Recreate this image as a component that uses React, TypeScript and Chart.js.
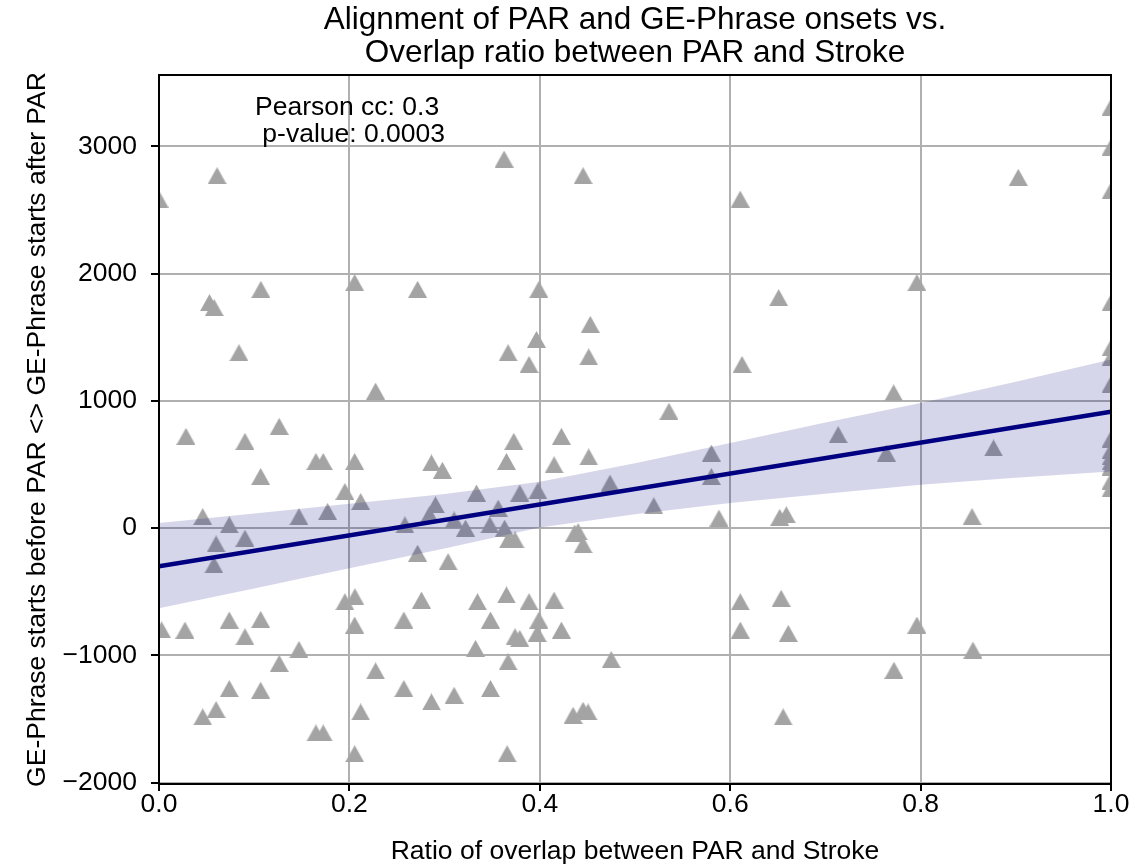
import React, { useEffect, useRef } from 'react';
import { Chart, registerables } from 'chart.js';

Chart.register(...registerables);

// ---- data ----
const overlapRatio = [
  0.0, 0.061, 0.053, 0.058, 0.107, 0.084, 0.2055, 0.2716, 0.2275, 0.3625,
  0.4455, 0.6105, 0.399, 0.6509, 0.453, 0.3965, 0.3667, 0.3887, 0.4514, 0.6124,
  0.5357, 1.0, 1.0, 1.0, 0.9026, 0.7961, 1.0, 0.7717, 1.0, 1.0,
  1.0, 1.0, 1.0, 1.0, 1.0, 1.0, 1.0, 1.0, 0.7134, 0.764,
  0.8766, 0.659, 0.652, 0.854, 0.6535, 0.661, 0.7961, 0.855, 0.772, 0.6556,
  0.3727, 0.4227, 0.365, 0.415, 0.4514, 0.5802, 0.5802, 0.3335, 0.379, 0.398,
  0.4738, 0.5197, 0.5882, 0.3563, 0.3475, 0.363, 0.367, 0.374, 0.4367, 0.4402,
  0.4455, 0.3345, 0.365, 0.3887, 0.415, 0.3482, 0.399, 0.3972, 0.374, 0.379,
  0.4227, 0.3325, 0.3667, 0.475, 0.6106, 0.6106, 0.3482, 0.435, 0.4455, 0.4507,
  0.3657, 0.0283, 0.0903, 0.1263, 0.1648, 0.1725, 0.2055, 0.1068, 0.2862, 0.2977,
  0.1953, 0.2118, 0.0459, 0.0738, 0.147, 0.1771, 0.06, 0.0903, 0.0577, 0.2904,
  0.284, 0.2583, 0.31, 0.322, 0.2716, 0.3037, 0.1953, 0.2058, 0.2055, 0.2757,
  0.2572, 0.0028, 0.0273, 0.0738, 0.1068, 0.0903, 0.147, 0.1263, 0.2275, 0.0738,
  0.1068, 0.2572, 0.2862, 0.31, 0.0459, 0.06, 0.2118, 0.1648, 0.1725, 0.2055,
];

const onsetOffset = [
  2585, 2769, 1772, 1732, 1876, 1378, 1929, 1876, 1076, 2900,
  2769, 2585, 1876, 1811, 1601, 1483, 1378, 1286, 1346, 1286,
  918, 3307, 2992, 2650, 2756, 1929, 1772, 1063, 1417, 1340,
  1130, 700, 610, 560, 520, 480, 370, 310, 735, 590,
  630, 105, 85, 91, -551, -827, -761, -958, -1116, -1483,
  682, 721, 524, 498, 559, 590, 406, 276, 276, 294,
  354, 176, 79, 157, 26, 0, -92, -92, -39, -27,
  -131, -578, -525, -578, -565, -722, -722, -827, -853, -866,
  -801, -945, -1050, -1032, -578, -801, -1260, -1470, -1431, -1444,
  -1772, 721, 682, 800, 524, 524, 524, 406, 512, 454,
  288, 209, 91, 26, 91, 131, -124, -79, -289, 183,
  105, 26, 65, 0, -197, -263, -578, -539, -761, -565,
  -722, -800, -801, -722, -717, -853, -953, -1063, -1121, -1260,
  -1273, -1260, -1365, -1313, -1483, -1425, -1444, -1609, -1609, -1772,
];

const fitX = [0, 1];
const fitY = [-300, 915];

const ciX = [0, 0.1, 0.2, 0.3, 0.4, 0.5, 0.6, 0.7, 0.8, 0.9, 1.0];
const ciUpper = [40, 115, 192, 268, 365, 510, 669, 830, 984, 1150, 1325];
const ciLower = [-630, -474, -316, -160, 5, 110, 197, 270, 341, 395, 446];

const xTickValues = [0, 0.2, 0.4, 0.6, 0.8, 1.0];
const yTickValues = [-2000, -1000, 0, 1000, 2000, 3000];

const titleLines = ['Alignment of PAR and GE-Phrase onsets vs.', 'Overlap ratio between PAR and Stroke'];
const statLines = ['Pearson cc: 0.3', ' p-value: 0.0003'];
const xLabel = 'Ratio of overlap between PAR and Stroke';
const yLabel = 'GE-Phrase starts before PAR <> GE-Phrase starts after PAR';

const FONT = '"Liberation Sans", Arial, Helvetica, sans-serif';

function makeTriangle(color: string): HTMLCanvasElement {
  const c = document.createElement('canvas');
  c.width = 19;
  c.height = 17;
  const g = c.getContext('2d')!;
  g.fillStyle = color;
  g.beginPath();
  g.moveTo(9.5, 0);
  g.lineTo(19, 17);
  g.lineTo(0, 17);
  g.closePath();
  g.fill();
  return c;
}

const decorPlugin = {
  id: 'decor',
  afterDraw(chart: any) {
    const { ctx, chartArea: a } = chart;
    ctx.save();
    ctx.strokeStyle = '#000';
    ctx.lineWidth = 2;
    ctx.strokeRect(a.left, a.top, a.right - a.left, a.bottom - a.top);
    ctx.fillStyle = '#000';
    ctx.font = `31.5px ${FONT}`;
    ctx.textAlign = 'center';
    ctx.textBaseline = 'alphabetic';
    const cx = (a.left + a.right) / 2;
    ctx.fillText(titleLines[0], cx, 29);
    ctx.fillText(titleLines[1], cx, 62);
    ctx.font = `26.5px ${FONT}`;
    ctx.textAlign = 'left';
    ctx.fillText(statLines[0], a.left + 96, 115);
    ctx.fillText(statLines[1], a.left + 96, 142);
    ctx.restore();
  },
};

export default function App() {
  const canvasRef = useRef<HTMLCanvasElement | null>(null);

  useEffect(() => {
    const canvas = canvasRef.current;
    if (!canvas) return;
    const tri = makeTriangle('#a4a4a4');
    const scatterData = overlapRatio.map((x, i) => ({ x, y: onsetOffset[i] }));
    const upperData = ciX.map((x, i) => ({ x, y: ciUpper[i] }));
    const lowerData = ciX.map((x, i) => ({ x, y: ciLower[i] }));
    const fitData = fitX.map((x, i) => ({ x, y: fitY[i] }));

    const chart = new Chart(canvas, {
      type: 'scatter',
      data: {
        datasets: [
          {
            type: 'line',
            data: fitData,
            borderColor: '#000080',
            borderWidth: 4.5,
            pointRadius: 0,
            fill: false,
            order: 0,
          } as any,
          {
            type: 'line',
            data: upperData,
            borderWidth: 0,
            borderColor: 'rgba(0,0,0,0)',
            backgroundColor: 'rgba(0,0,128,0.16)',
            pointRadius: 0,
            fill: '+1',
            order: 1,
          } as any,
          {
            type: 'line',
            data: lowerData,
            borderWidth: 0,
            borderColor: 'rgba(0,0,0,0)',
            pointRadius: 0,
            fill: false,
            order: 1,
          } as any,
          {
            type: 'scatter',
            data: scatterData,
            pointStyle: tri,
            pointRadius: 9,
            backgroundColor: '#a4a4a4',
            borderWidth: 0,
            clip: 0,
            order: 2,
          } as any,
        ],
      },
      options: {
        animation: false,
        responsive: false,
        devicePixelRatio: 1,
        layout: { padding: { top: 75, right: 37, bottom: 0, left: 0 } },
        plugins: {
          legend: { display: false },
          tooltip: { enabled: false },
          title: { display: false },
        },
        scales: {
          x: {
            type: 'linear',
            min: 0,
            max: 1,
            afterFit: (s: any) => { s.height = 84; },
            afterBuildTicks: (s: any) => { s.ticks = xTickValues.map((v) => ({ value: v })); },
            grid: { color: '#b0b0b0', lineWidth: 2, tickColor: '#000', tickLength: 7, tickWidth: 2, drawTicks: true },
            border: { display: false },
            ticks: {
              color: '#000',
              font: { family: FONT, size: 26.5, lineHeight: 1.2 },
              padding: -2,
              maxRotation: 0,
              autoSkip: false,
              callback: (v: any) => Number(v).toFixed(1),
            },
            title: {
              display: true,
              text: xLabel,
              color: '#000',
              font: { family: FONT, size: 26.5, lineHeight: 1.2 },
              padding: { top: 0, bottom: 0 },
            },
          },
          y: {
            type: 'linear',
            min: -2010,
            max: 3560,
            afterFit: (s: any) => { s.width = 159; },
            afterBuildTicks: (s: any) => { s.ticks = yTickValues.map((v) => ({ value: v })); },
            grid: { color: '#b0b0b0', lineWidth: 2, tickColor: '#000', tickLength: 8, tickWidth: 2, drawTicks: true },
            border: { display: false },
            ticks: {
              color: '#000',
              font: { family: FONT, size: 26.5, lineHeight: 1.2 },
              padding: 14,
              autoSkip: false,
              callback: (v: any) => (Number(v) < 0 ? '\u2212' + Math.abs(Number(v)) : String(v)),
            },
            title: {
              display: true,
              text: yLabel,
              color: '#000',
              font: { family: FONT, size: 26.5, lineHeight: 1.2 },
              padding: { top: 22, bottom: 0 },
            },
          },
        },
      },
      plugins: [decorPlugin],
    });
    return () => chart.destroy();
  }, []);

  return (
    <div style={{ position: 'absolute', left: 0, top: 0, width: 1148, height: 868, background: '#fff' }}>
      <canvas ref={canvasRef} width={1148} height={868} style={{ width: 1148, height: 868, display: 'block' }} />
    </div>
  );
}
